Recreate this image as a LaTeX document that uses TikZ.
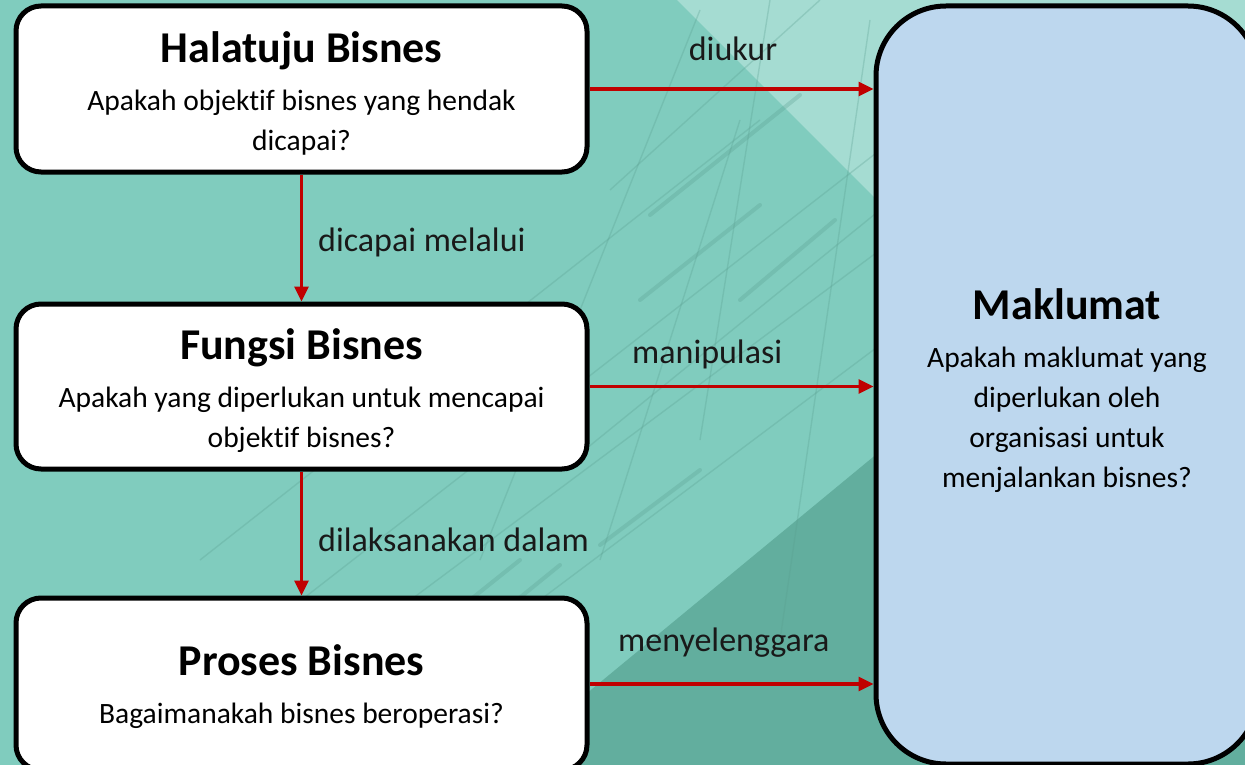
\documentclass[tikz,border=0pt]{standalone}
\usepackage{fontspec}
\setmainfont{Carlito}[Ligatures=NoCommon]
\usetikzlibrary{arrows.meta,calc}
\definecolor{bgteal}{HTML}{80CCBE}
\definecolor{bglight}{HTML}{A5DCD2}
\definecolor{bgdark}{HTML}{62AE9E}
\definecolor{lineteal}{HTML}{5A9F90}
\definecolor{infoblue}{HTML}{BDD7EE}
\definecolor{arrowred}{HTML}{C00000}
\newcommand\ttlfont{\fontsize{44}{50}\selectfont\bfseries}
\newcommand\subfont{\fontsize{29.5}{40}\selectfont}
\newcommand\lblfont{\fontsize{34}{40}\selectfont}
\tikzset{
  stagebox/.style={draw=black, line width=5pt, fill=white, rounded corners=25pt,
    inner sep=0pt, minimum width=571pt},
  infobox/.style={draw=black, line width=5pt, fill=infoblue, rounded corners=70pt,
    inner sep=0pt, minimum width=382pt},
  boxtext/.style={inner sep=0pt, text width=#1, align=flush center, font=\subfont},
  boxtext/.default=560pt,
  flowarrow/.style={draw=arrowred, line width=3.2pt, -{Triangle[length=15pt,width=14pt]}},
  flowlabel/.style={font=\lblfont, inner sep=0pt, text=black!90},
  texture/.style={draw=lineteal, line width=1.4pt, opacity=0.3},
  ledge/.style={draw=lineteal, line width=4pt, opacity=0.3, line cap=round}
}
\begin{document}
\begin{tikzpicture}[x=1pt,y=-1pt]
\clip (0,0) rectangle (1245,765);
% background
\fill[bgteal] (0,0) rectangle (1245,765);
\fill[bglight] (677,0) -- (1245,0) -- (1245,568) -- cycle;
\fill[bgdark] (500,765) -- (1245,765) -- (1245,150) -- cycle;
% faint architectural texture
\draw[texture] (250,640) -- (880,150);
\draw[texture] (330,660) -- (880,250);
\draw[texture] (420,690) -- (880,345);
\draw[texture] (200,560) -- (760,120);
\draw[texture] (480,560) -- (700,10);
\draw[texture] (600,560) -- (740,120);
\draw[texture] (700,440) -- (770,0);
\draw[texture] (610,190) -- (820,0);
\draw[texture] (560,470) -- (880,210);
\draw[texture] (780,640) -- (870,20);
\draw[ledge] (650,215) -- (800,95);
\draw[ledge] (640,300) -- (760,205);
\draw[ledge] (740,300) -- (835,220);
\draw[ledge] (600,545) -- (700,470);
\draw[ledge] (420,640) -- (520,560);
\draw[ledge] (480,630) -- (560,565);
% boxes
\node[stagebox, minimum height=166pt] (goal) at (301.5,89) {};
\node[stagebox, minimum height=165pt] (func) at (301.5,386.5) {};
\node[stagebox, minimum height=172pt] (proc) at (301.5,684) {};
\node[infobox, minimum height=758pt] (info) at (1067,385) {};
% box texts
\node[boxtext] (goaltxt) at ($(goal.center)+(0,4)$)
  {{\ttlfont Halatuju Bisnes\par}\vskip8pt Apakah objektif bisnes yang hendak\\ dicapai?};
\node[boxtext] (functxt) at ($(func.center)+(0,4)$)
  {{\ttlfont Fungsi Bisnes\par}\vskip8pt Apakah yang diperlukan untuk mencapai\\ objektif bisnes?};
\node[boxtext] (proctxt) at ($(proc.center)+(0,3)$)
  {{\ttlfont Proses Bisnes\par}\vskip8pt Bagaimanakah bisnes beroperasi?};
\node[boxtext=370pt] (infotxt) at ($(info.center)+(0,6)$)
  {{\ttlfont Maklumat\par}\vskip8pt Apakah maklumat yang\\ diperlukan oleh\\ organisasi untuk\\ menjalankan bisnes?};
% connectors
\draw[flowarrow] (goal.east) -- (goal.east -| info.west);
\draw[flowarrow] (func.east) -- (func.east -| info.west);
\draw[flowarrow] (proc.east) -- (proc.east -| info.west);
\draw[flowarrow] (goal.south) -- (func.north);
\draw[flowarrow] (func.south) -- (proc.north);
% labels
\node[flowlabel, anchor=base] (lbla) at (733,61) {diukur};
\node[flowlabel, anchor=base west] (lblb) at (632,363) {manipulasi};
\node[flowlabel, anchor=base west] (lblc) at (618,651) {menyelenggara};
\node[flowlabel, anchor=base west] (lbld) at (318,251) {dicapai melalui};
\node[flowlabel, anchor=base west] (lble) at (318,551) {dilaksanakan dalam};
\end{tikzpicture}
\end{document}
